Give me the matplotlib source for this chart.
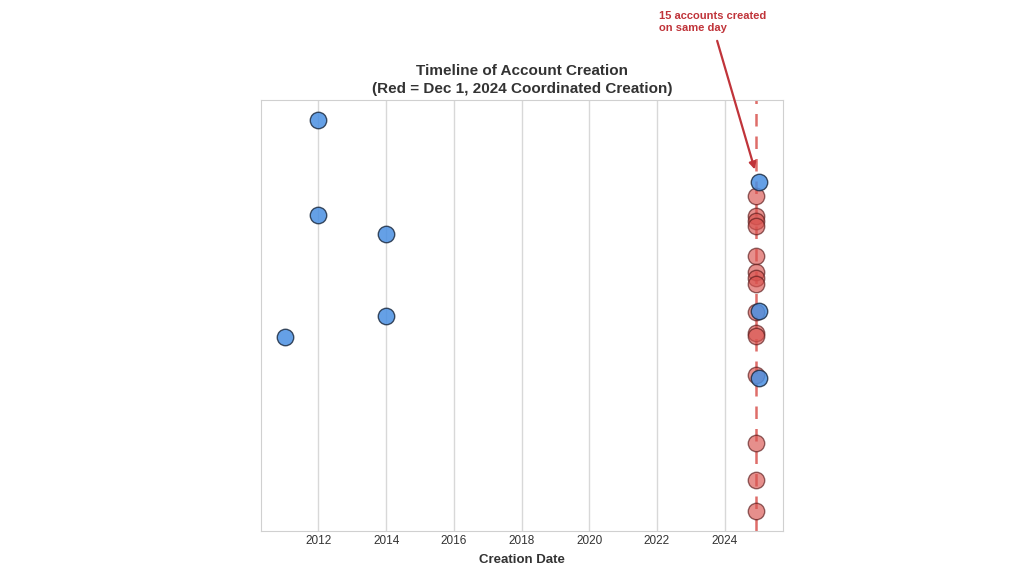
import matplotlib
matplotlib.use("Agg")
import matplotlib.pyplot as plt
import matplotlib.dates as mdates
import pandas as pd

plt.rcParams['font.family'] = ['Liberation Sans', 'DejaVu Sans']

# Cuentas normales (azul)
blue_dates = ["2012-01-01", "2012-01-01", "2014-01-01", "2014-01-01", "2011-01-01",
              "2025-01-12", "2025-01-12", "2025-01-12"]
blue_y = [95.4, 73.3, 68.9, 49.9, 45.0, 81.0, 51.0, 35.5]

# Cuentas creadas el 1 dic 2024 (rojo)
red_dates = ["2024-12-01"] * 15
red_y = [77.7, 73.1, 71.9, 70.8, 63.8, 60.1, 58.7, 57.3, 50.8, 45.9, 45.2, 36.2,
         20.4, 11.8, 4.6]

coord_day = "2024-12-01"

fig = plt.figure(figsize=(10.24, 5.76), dpi=100)
ax = fig.add_axes([0.255, 0.078, 0.51, 0.748])

ax.scatter(pd.to_datetime(red_dates), red_y, s=140, color="#d9534f", alpha=0.65,
           edgecolor="#5a1a1a", linewidth=1.0, zorder=3)
ax.scatter(pd.to_datetime(blue_dates), blue_y, s=140, color="#4a90e2", alpha=0.85,
           edgecolor="#1f2f45", linewidth=1.0, zorder=4)

ax.axvline(pd.Timestamp(coord_day), color="#d9534f", linestyle=(0, (5, 4)),
           linewidth=1.8, alpha=0.85, zorder=2)

ax.set_xlim(pd.Timestamp("2010-04-22"), pd.Timestamp("2025-09-27"))
ax.set_ylim(0, 100)
ax.set_yticks([])
ax.xaxis.set_major_locator(mdates.YearLocator(2))
ax.xaxis.set_major_formatter(mdates.DateFormatter("%Y"))
ax.tick_params(axis="x", labelsize=8.5, colors="#333333", length=0, pad=3)

ax.grid(axis="x", color="#d8d8d8", linewidth=1.0)
ax.set_axisbelow(True)
for sp in ax.spines.values():
    sp.set_color("#d0d0d0")

ax.set_xlabel("Creation Date", fontsize=9.5, fontweight="bold", color="#333333", labelpad=5)
ax.set_title("Timeline of Account Creation\n(Red = Dec 1, 2024 Coordinated Creation)",
             fontsize=11, fontweight="bold", color="#333333", pad=5, linespacing=1.35)

# Anotación
ax.annotate("", xy=(pd.Timestamp("2024-12-01"), 83.3),
            xytext=(pd.Timestamp("2023-10-05"), 114.4),
            arrowprops=dict(arrowstyle="-|>", color="#c0343a", lw=1.6, mutation_scale=10),
            annotation_clip=False)
ax.text(pd.Timestamp("2022-01-20"), 120.6, "15 accounts created\non same day",
        color="#c0343a", fontsize=8, fontweight="bold", va="top", ha="left",
        linespacing=1.25, clip_on=False)

fig.savefig("out.png", dpi=100)
